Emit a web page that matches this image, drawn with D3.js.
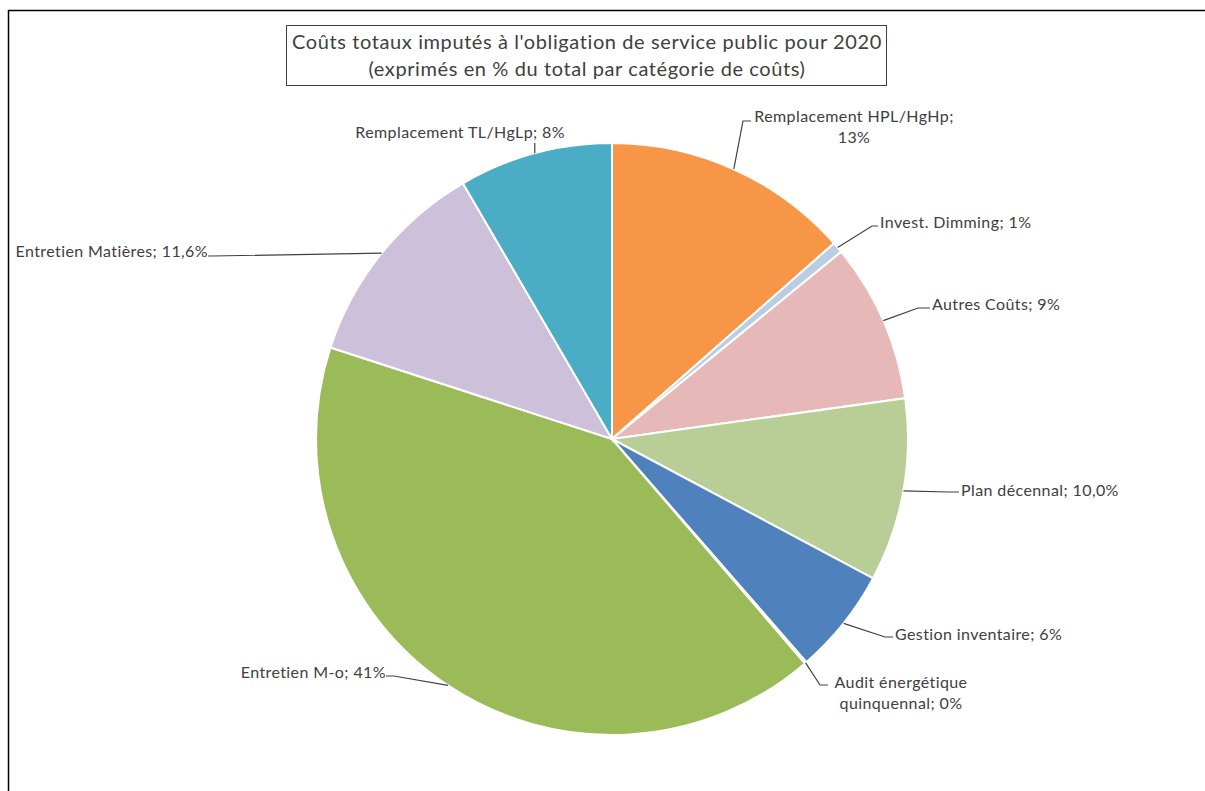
<!DOCTYPE html>
<html>
<head>
<meta charset="utf-8">
<script src="https://cdn.jsdelivr.net/npm/d3@7"></script>
<style>
  body { margin: 0; background: #fff; }
  svg { display: block; }
  text { font-family: Lato, "Open Sans", sans-serif; fill: #404040; }
</style>
</head>
<body>
<svg width="1205" height="791"></svg>
<script>
// slices clockwise from 12 o'clock
var categories = ["Remplacement HPL/HgHp", "Invest. Dimming", "Autres Coûts", "Plan décennal",
    "Gestion inventaire", "Audit énergétique quinquennal", "Entretien M-o",
    "Entretien Matières", "Remplacement TL/HgLp"]
var values = [13.5, 0.6, 8.7, 10.0, 5.8, 0.1, 41.3, 11.6, 8.4]
var valueLabels = ["13%", "1%", "9%", "10,0%", "6%", "0%", "41%", "11,6%", "8%"]
var colors = ["#F79646", "#B9CDE5", "#E6B9B8", "#B9CD96", "#4F81BD", "#ffffff", "#9BBB59", "#CCC0DA", "#4BACC6"]

var svg = d3.select("svg")
var cx = 612, cy = 439, r = 296

// outer frame (right and bottom edges are off the picture)
svg.append("rect").attr("x", 8.5).attr("y", 10.5).attr("width", 1300).attr("height", 900)
    .attr("fill", "none").attr("stroke", "#000").attr("stroke-width", 1.5)

// title box
svg.append("rect").attr("x", 286.5).attr("y", 25.5).attr("width", 600).attr("height", 60)
    .attr("fill", "#fff").attr("stroke", "#404040").attr("stroke-width", 1)
svg.append("text").attr("x", 587).attr("y", 49).attr("text-anchor", "middle")
    .style("font-size", "20px").style("letter-spacing", "0.6px")
    .text("Coûts totaux imputés à l'obligation de service public pour 2020")
svg.append("text").attr("x", 587).attr("y", 76).attr("text-anchor", "middle")
    .style("font-size", "20px").style("letter-spacing", "0.6px")
    .text("(exprimés en % du total par catégorie de coûts)")

var pie = d3.pie().sort(null).value(function(d) { return d })
var arcs = pie(values)
var arc = d3.arc().innerRadius(0).outerRadius(r)

var g = svg.append("g").attr("transform", "translate(" + cx + "," + cy + ")")
g.selectAll("path.slice").data(arcs).enter().append("path")
    .attr("class", "slice")
    .attr("d", arc)
    .attr("fill", function(d, i) { return colors[i] })
    .attr("stroke", "#fff").attr("stroke-width", 2)

// label layout: text anchor x,y, elbow x, anchor side, line break
var labelPos = [
    { x: 854, y: 122, ex: 743, ey: 121, anchor: "middle", two: true },
    { x: 880, y: 228, ex: 872, ey: 226, anchor: "start" },
    { x: 932, y: 310, ex: 918, ey: 308, anchor: "start" },
    { x: 961, y: 496, ex: 948, ey: 492, anchor: "start" },
    { x: 895, y: 640, ex: 885, ey: 637, anchor: "start" },
    { x: 901, y: 688, ex: 820, ey: 685, anchor: "middle", two: true },
    { x: 386, y: 678, ex: 394, ey: 676, anchor: "end" },
    { x: 208, y: 257, ex: 212, ey: 256, anchor: "end" },
    { x: 565, y: 138, ex: null, ey: 143, anchor: "end" }
]

arcs.forEach(function(a, i) {
    var p = labelPos[i]
    var mid = (a.startAngle + a.endAngle) / 2
    var ax = cx + r * Math.sin(mid), ay = cy - r * Math.cos(mid)
    var pts
    if (p.ex === null) pts = [[ax, ay], [ax, p.ey]]
    else {
        var tx = p.anchor == "end" ? p.x : (p.anchor == "start" ? p.x - 2 : p.ex + 8)
        pts = [[ax, ay], [p.ex, p.ey], [tx, p.ey]]
    }
    svg.append("path").attr("d", d3.line()(pts))
        .attr("fill", "none").attr("stroke", "#404040").attr("stroke-width", 1.2)

    var t = svg.append("text").attr("x", p.x).attr("y", p.y)
        .attr("text-anchor", p.anchor).style("font-size", "16px").style("letter-spacing", "0.4px")
    if (p.two) {
        if (i == 5) {
            t.append("tspan").attr("x", p.x).text("Audit énergétique")
            t.append("tspan").attr("x", p.x).attr("dy", 21).text("quinquennal; " + valueLabels[i])
        } else {
            t.append("tspan").attr("x", p.x).text(categories[i] + ";")
            t.append("tspan").attr("x", p.x).attr("dy", 21).text(valueLabels[i])
        }
    } else {
        t.text(categories[i] + "; " + valueLabels[i])
    }
})
</script>
</body>
</html>
